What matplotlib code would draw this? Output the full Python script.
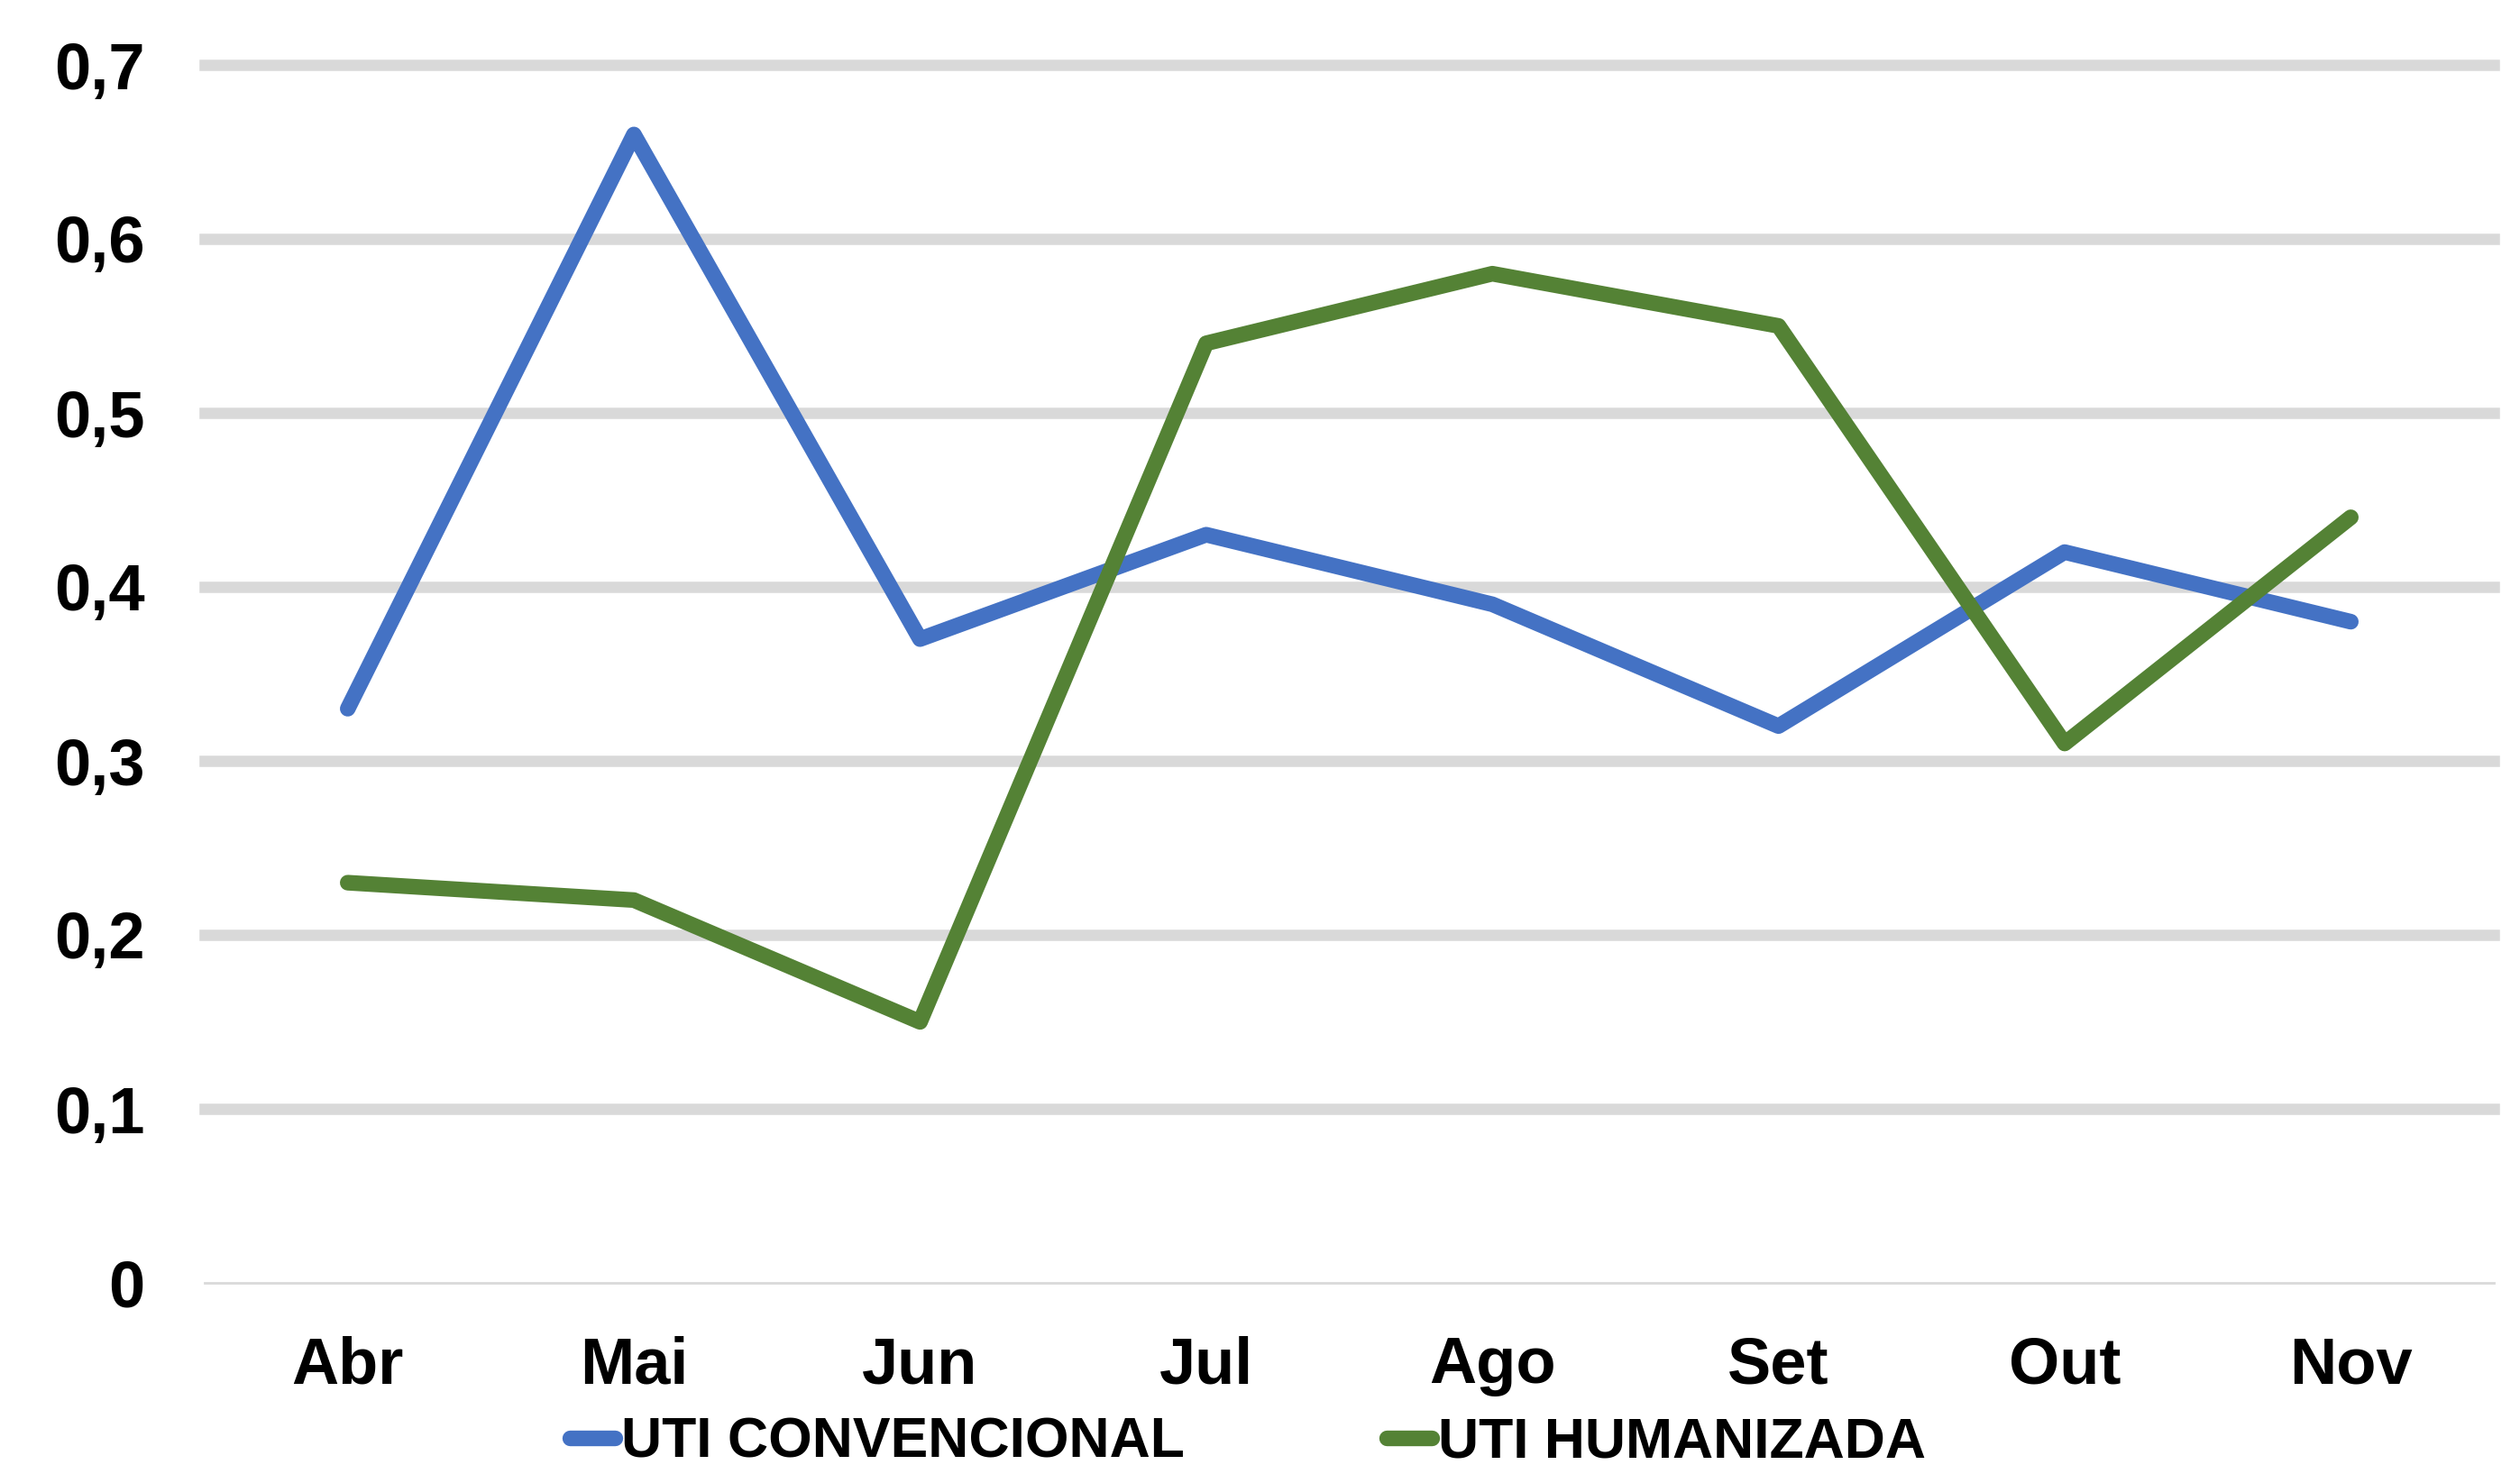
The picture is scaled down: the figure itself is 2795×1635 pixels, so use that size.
import matplotlib
matplotlib.use("Agg")
import matplotlib.pyplot as plt

meses = ["Abr", "Mai", "Jun", "Jul", "Ago", "Set", "Out", "Nov"]
convencional = [0.33, 0.66, 0.37, 0.43, 0.39, 0.32, 0.42, 0.38]
humanizada = [0.23, 0.22, 0.15, 0.54, 0.58, 0.55, 0.31, 0.44]
y_ticks = [0, 0.1, 0.2, 0.3, 0.4, 0.5, 0.6, 0.7]
y_labels = ["0", "0,1", "0,2", "0,3", "0,4", "0,5", "0,6", "0,7"]

plt.rcParams["font.family"] = ["Liberation Sans", "DejaVu Sans"]
plt.rcParams["font.weight"] = "bold"

fig = plt.figure(figsize=(27.95, 16.35), dpi=100)
ax = fig.add_axes([227 / 2795, 1 - 1423 / 1635, (2766 - 227) / 2795, (1423 - 72) / 1635])

x = list(range(len(meses)))
# gridlines (Excel style: thick light gray, thin at zero)
for t in y_ticks:
    ax.axhline(t, color="#d9d9d9", lw=9 if t > 0 else 2.0, zorder=0, clip_on=False)

ax.plot(x, convencional, color="#4472c4", lw=12.5, solid_capstyle="round",
        solid_joinstyle="round", label="UTI CONVENCIONAL", zorder=3)
ax.plot(x, humanizada, color="#548235", lw=12.5, solid_capstyle="round",
        solid_joinstyle="round", label="UTI HUMANIZADA", zorder=3)

ax.set_xlim(-0.5, len(meses) - 0.5)
ax.set_ylim(0, 0.7)
ax.set_xticks(x)
ax.set_xticklabels(meses, fontsize=52, fontweight="bold")
ax.set_yticks(y_ticks)
ax.set_yticklabels(y_labels, fontsize=52, fontweight="bold")
ax.tick_params(axis="both", length=0)
ax.tick_params(axis="y", pad=48)
ax.tick_params(axis="x", pad=42)
for s in ax.spines.values():
    s.set_visible(False)

fig.legend(loc="center", bbox_to_anchor=(1384 / 2795, 1 - 1600 / 1635), ncol=2,
           frameon=False, prop={"size": 45, "weight": "bold"},
           handlelength=0.8, handletextpad=0.1, columnspacing=3.6,
           borderpad=0, borderaxespad=0)

fig.savefig("out.png", dpi=100, facecolor="white")
